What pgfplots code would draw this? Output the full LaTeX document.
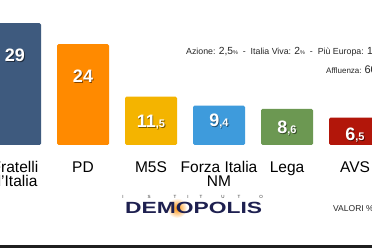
\documentclass[border=0pt]{standalone}
\usepackage{fontspec}
\setmainfont{Liberation Sans}
\usepackage{graphicx}
\usepackage{pgfplots}
\pgfplotsset{compat=1.18}
\definecolor{cFdI}{RGB}{62,90,126}
\definecolor{cPD}{RGB}{255,138,0}
\definecolor{cMS}{RGB}{244,180,0}
\definecolor{cFI}{RGB}{62,155,220}
\definecolor{cLega}{RGB}{108,152,82}
\definecolor{cAVS}{RGB}{178,22,10}
\definecolor{navy}{RGB}{30,32,80}
\newcommand{\valfont}{\bfseries\fontsize{18bp}{18bp}\selectfont}
\newcommand{\sm}[1]{{\fontsize{11bp}{11bp}\selectfont #1}}
\begin{document}
\begin{tikzpicture}
\useasboundingbox (0,0) rectangle (372bp,248bp);
\clip (0,0) rectangle (372bp,248bp);
\fill[white] (0,0) rectangle (372bp,248bp);
\begin{axis}[
  at={(0bp,103bp)}, anchor=south west,
  x=68bp, y=4.2bp,
  xmin=-0.2206, xmax=5.25, ymin=0, ymax=30,
  enlargelimits=false,
  axis line style={draw=none},
  tick style={draw=none},
  ytick=\empty,
  xtick={0,1,2,3,4,5},
  xticklabels={{Fratelli\\d'Italia},PD,M5S,{Forza Italia\\NM},Lega,AVS},
  xticklabel style={font=\fontsize{15.5bp}{14bp}\selectfont, align=center, anchor=north, inner sep=0pt, yshift=-12bp, text=black},
  ybar, bar width=52bp, bar shift=0pt,
  every axis plot/.append style={draw=none, rounded corners=1.5bp},
]
\addplot[fill=cFdI] coordinates {(0,29)};
\addplot[fill=cPD] coordinates {(1,24)};
\addplot[fill=cMS] coordinates {(2,11.5)};
\addplot[fill=cFI] coordinates {(3,9.4)};
\addplot[fill=cLega] coordinates {(4,8.6)};
\addplot[fill=cAVS] coordinates {(5,6.5)};
% value labels (shadow + white)
\node[text=black, opacity=0.5, font=\valfont] at ([shift={(0.8bp,-0.9bp)}]axis cs:0,21.4) {29};
\node[text=white, font=\valfont] at (axis cs:0,21.4) {29};
\node[text=black, opacity=0.5, font=\valfont] at ([shift={(0.8bp,-0.9bp)}]axis cs:1,16.4) {24};
\node[text=white, font=\valfont] at (axis cs:1,16.4) {24};
\node[text=black, opacity=0.5, font=\valfont] at ([shift={(0.8bp,-0.9bp)}]axis cs:2,5.5) {11\sm{,5}};
\node[text=white, font=\valfont] at (axis cs:2,5.5) {11\sm{,5}};
\node[text=black, opacity=0.5, font=\valfont] at ([shift={(0.8bp,-0.9bp)}]axis cs:3,5.7) {9\sm{,4}};
\node[text=white, font=\valfont] at (axis cs:3,5.7) {9\sm{,4}};
\node[text=black, opacity=0.5, font=\valfont] at ([shift={(0.8bp,-0.9bp)}]axis cs:4,4.05) {8\sm{,6}};
\node[text=white, font=\valfont] at (axis cs:4,4.05) {8\sm{,6}};
\node[text=black, opacity=0.5, font=\valfont] at ([shift={(0.8bp,-0.9bp)}]axis cs:5,2.4) {6\sm{,5}};
\node[text=white, font=\valfont] at (axis cs:5,2.4) {6\sm{,5}};
\end{axis}
% top notes
\node[anchor=base west, inner sep=0pt, text=black!85] at (186bp,193bp)
  {\fontsize{8.8bp}{10bp}\selectfont Azione: {\fontsize{10.3bp}{10bp}\selectfont 2,5}{\fontsize{5.5bp}{6bp}\selectfont\%}\ \ -\ \ Italia Viva: {\fontsize{10.3bp}{10bp}\selectfont 2}{\fontsize{5.5bp}{6bp}\selectfont\%}\ \ -\ \ Più Europa: {\fontsize{10.3bp}{10bp}\selectfont 1,5}{\fontsize{5.5bp}{6bp}\selectfont\%}};
\node[anchor=base west, inner sep=0pt, text=black!85] at (326bp,174bp)
  {\fontsize{8bp}{9bp}\selectfont Affluenza: {\fontsize{11bp}{10bp}\selectfont 60}};
% logo
\shade[inner color=orange!90!yellow, outer color=white] (177bp,40bp) circle (10bp);
\node[anchor=south west, inner sep=0pt, text=navy] at (125bp,34bp) {\resizebox{137bp}{11.3bp}{\bfseries DEMOPOLIS}};
\foreach \xx/\ll in {123/I,149/S,175/T,188/I,201/T,223/U,239/T,261/O}
  \node[inner sep=0pt, text=black!80, font=\fontsize{4.5bp}{5bp}\selectfont] at (\xx bp,51bp) {\ll};
\node[anchor=base west, inner sep=0pt, text=black!85] at (333bp,37bp)
  {\fontsize{8.5bp}{10bp}\selectfont VALORI \%};
% bottom band
\fill[black!88] (0,0) rectangle (372bp,3bp);
\end{tikzpicture}
\end{document}
